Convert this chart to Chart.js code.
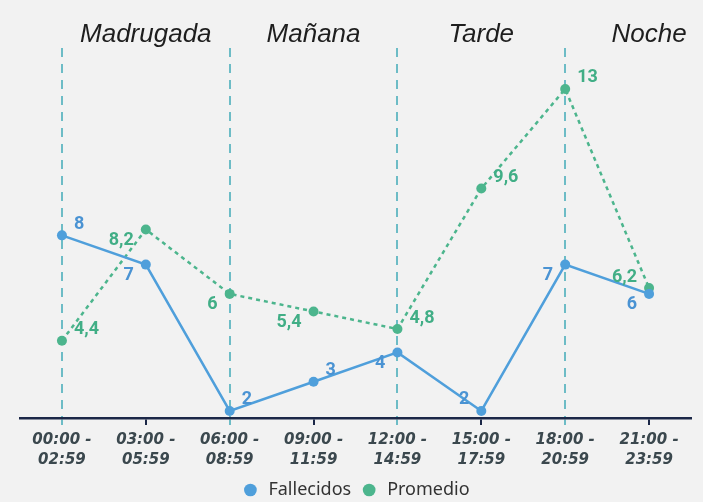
<!DOCTYPE html>
<html>
<head>
<meta charset="utf-8">
<script src="https://cdn.jsdelivr.net/npm/chart.js@4.4.1/dist/chart.umd.min.js"></script>
<style>
  html, body { margin: 0; padding: 0; background: #f2f2f2; }
  #wrap { width: 703px; height: 502px; }
</style>
</head>
<body>
<div id="wrap"><canvas id="c" width="703" height="502"></canvas></div>
<script>
const categories = [
  ['00:00 -', '02:59'], ['03:00 -', '05:59'], ['06:00 -', '08:59'], ['09:00 -', '11:59'],
  ['12:00 -', '14:59'], ['15:00 -', '17:59'], ['18:00 -', '20:59'], ['21:00 -', '23:59']
];
const fallecidos = [8, 7, 2, 3, 4, 2, 7, 6];
const promedio = [4.4, 8.2, 6, 5.4, 4.8, 9.6, 13, 6.2];
const sections = ['Madrugada', 'Mañana', 'Tarde', 'Noche'];

const BLUE = '#4f9fdb';
const GREEN = '#4cb58d';
const TEAL = '#6dbcc6';
const NAVY = '#1c2848';

// label placement per point: direction code (style only)
const blueDirs = ['ne', 'sw', 'ne', 'ne', 'sw', 'nw', 'sw', 'sw'];
const greenDirs = ['ne', 'sw', 'sw', 'sw', 'ne', 'ne', 'ne', 'nw'];

const overlayPlugin = {
  id: 'overlay',
  afterDatasetsDraw(chart) {
    const ctx = chart.ctx;
    const xs = chart.scales.x;
    ctx.save();
    ctx.font = 'italic 26px "Liberation Sans", Arial, sans-serif';
    ctx.fillStyle = '#1e1e1e';
    ctx.textAlign = 'center';
    ctx.textBaseline = 'alphabetic';
    sections.forEach((s, i) => {
      const x = xs.getPixelForValue(i * 2 + 1);
      ctx.fillText(s, x, 42);
    });
    ctx.restore();

    const fmt = v => String(v).replace('.', ',');
    const drawLabels = (dsIndex, values, dirs, color) => {
      const meta = chart.getDatasetMeta(dsIndex);
      ctx.save();
      ctx.font = 'bold 18px Roboto, "Liberation Sans", sans-serif';
      ctx.fillStyle = color;
      ctx.textBaseline = 'middle';
      meta.data.forEach((pt, i) => {
        const d = dirs[i];
        const dx = d.includes('e') ? 12 : -12;
        const dy = d.includes('n') ? -11 : 11;
        ctx.textAlign = d.includes('e') ? 'left' : 'right';
        ctx.fillText(fmt(values[i]), pt.x + dx, pt.y + dy);
      });
      ctx.restore();
    };
    drawLabels(0, fallecidos, blueDirs, '#4a93d3');
    drawLabels(1, promedio, greenDirs, '#41ae86');
  }
};

new Chart(document.getElementById('c'), {
  type: 'line',
  data: {
    labels: categories,
    datasets: [
      {
        label: 'Fallecidos',
        data: fallecidos,
        borderColor: BLUE,
        backgroundColor: BLUE,
        borderWidth: 2.5,
        pointRadius: 5,
        pointBackgroundColor: BLUE,
        pointBorderWidth: 0,
        tension: 0
      },
      {
        label: 'Promedio',
        data: promedio,
        borderColor: GREEN,
        backgroundColor: GREEN,
        borderWidth: 2.5,
        borderDash: [4, 4],
        pointRadius: 5,
        pointBackgroundColor: GREEN,
        pointBorderWidth: 0,
        tension: 0
      }
    ]
  },
  options: {
    responsive: false,
    animation: false,
    layout: { padding: { top: 48, left: 20, right: 12, bottom: 0 } },
    plugins: {
      legend: {
        position: 'bottom',
        maxHeight: 30,
        labels: {
          usePointStyle: true,
          pointStyle: 'circle',
          boxWidth: 18,
          boxHeight: 9,
          padding: 9,
          color: '#333',
          font: { family: '"Noto Sans", sans-serif', size: 18 }
        }
      },
      tooltip: { enabled: false }
    },
    scales: {
      x: {
        offset: true,
        afterFit: s => { s.height = 54; },
        grid: {
          offset: false,
          drawOnChartArea: true,
          color: c => (c.index % 2 === 0 ? TEAL : 'rgba(0,0,0,0)'),
          lineWidth: 2,
          tickColor: c => (c.index % 2 === 0 ? TEAL : NAVY),
          tickLength: 7,
          tickWidth: 2
        },
        border: { display: true, color: NAVY, width: 2.5, dash: [9, 7] },
        ticks: {
          color: '#3b484e',
          padding: 5,
          font: { family: '"DejaVu Sans", sans-serif', size: 15, style: 'italic', weight: 'bold', lineHeight: '20px' },
          maxRotation: 0,
          autoSkip: false
        }
      },
      y: {
        display: false,
        min: 1.76,
        max: 14.4
      }
    }
  },
  plugins: [overlayPlugin]
});
</script>
</body>
</html>
